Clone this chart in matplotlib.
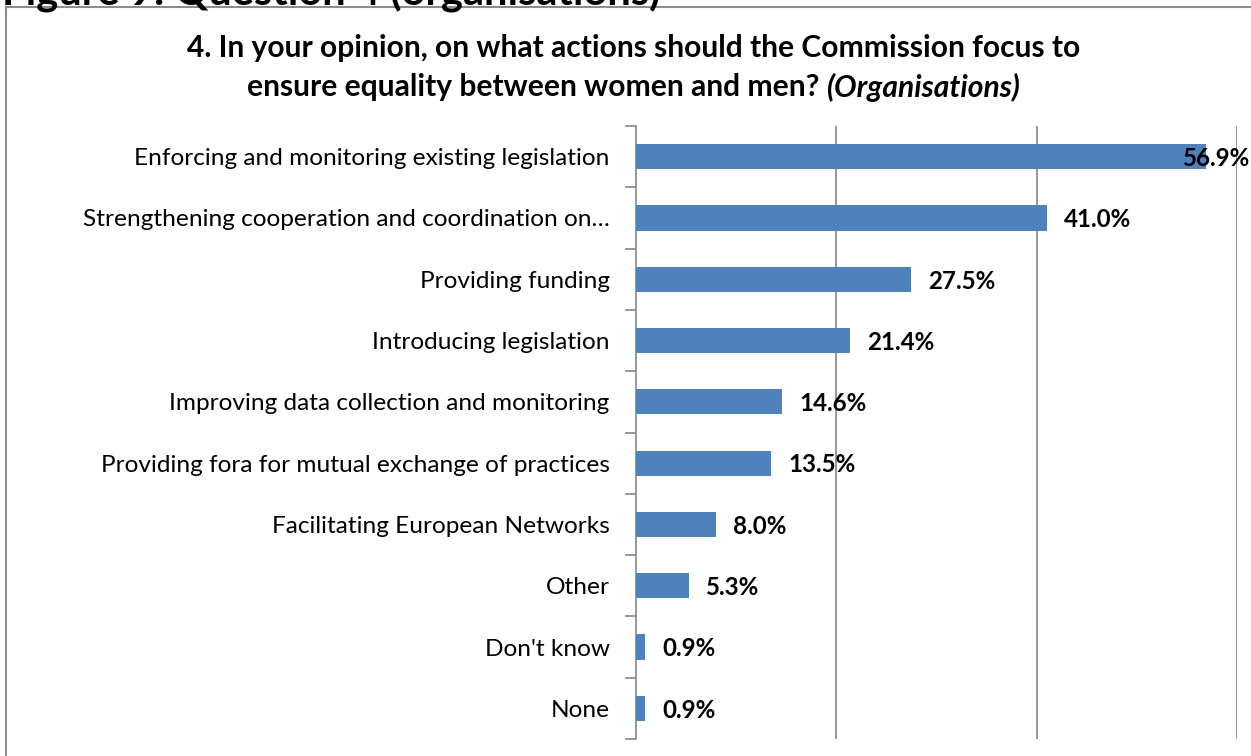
import matplotlib
matplotlib.use("Agg")
import matplotlib.pyplot as plt
from matplotlib.lines import Line2D

categories = [
    "Enforcing and monitoring existing legislation",
    "Strengthening cooperation and coordination on\u2026",
    "Providing funding",
    "Introducing legislation",
    "Improving data collection and monitoring",
    "Providing fora for mutual exchange of practices",
    "Facilitating European Networks",
    "Other",
    "Don't know",
    "None",
]
values = [56.9, 41.0, 27.5, 21.4, 14.6, 13.5, 8.0, 5.3, 0.9, 0.9]
value_labels = ["56.9%", "41.0%", "27.5%", "21.4%", "14.6%", "13.5%", "8.0%", "5.3%", "0.9%", "0.9%"]

FONT = ["Lato", "DejaVu Sans"]
plt.rcParams["font.family"] = FONT

W, H = 1251, 756
fig = plt.figure(figsize=(W / 100, H / 100), dpi=100)

def fx(px):
    return px / W

def fy(py):
    return 1 - py / H

# clipped header text (cut off at the top edge, as in the source page)
fig.text(fx(2), fy(4), "Figure 9: Question 4 (organisations)", fontsize=30,
         fontweight="bold", ha="left", va="baseline", color="black")

# chart border
border_col = "#8c8c8c"
fig.add_artist(Line2D([fx(6), fx(6)], [fy(7), 0], color=border_col, lw=1.5, transform=fig.transFigure))
fig.add_artist(Line2D([fx(6), 1], [fy(7), fy(7)], color=border_col, lw=1.5, transform=fig.transFigure))

# title
TSIZE = 21.6
fig.text(fx(634), fy(48), "4. In your opinion, on what actions should the Commission focus to",
         fontsize=TSIZE, fontweight="bold", ha="center", va="center")
renderer = fig.canvas.get_renderer()
t1 = fig.text(0, fy(87), "ensure equality between women and men? ", fontsize=TSIZE,
              fontweight="bold", ha="left", va="center")
t2 = fig.text(0, fy(87), "(Organisations)", fontsize=TSIZE, fontweight="bold",
              fontstyle="italic", ha="left", va="center")
w1 = t1.get_window_extent(renderer).width
w2 = t2.get_window_extent(renderer).width
start = 634 - (w1 + w2) / 2
t1.set_x(fx(start))
t2.set_x(fx(start + w1))

ax = fig.add_axes([fx(636), fy(739), fx(1237) - fx(636), fy(126) - fy(739)])

n = len(categories)
ypos = list(range(n))
ax.barh(ypos, values, height=0.41, color="#4F81BD", zorder=3)
ax.set_ylim(n - 0.5, -0.5)
ax.set_xlim(0, 60)

ax.set_xticks([20, 40, 60])
ax.xaxis.grid(True, color="#868686", lw=1.2, zorder=0)
ax.tick_params(axis="x", length=0, labelbottom=False)

ax.set_yticks(ypos)
ax.set_yticklabels(categories, fontsize=17.6)
ax.tick_params(axis="y", which="major", length=0, pad=19)
ax.set_yticks([i - 0.5 for i in range(n + 1)], minor=True)
ax.tick_params(axis="y", which="minor", length=8, width=1.2, color="#868686", direction="out")

for s in ["top", "right", "bottom"]:
    ax.spines[s].set_visible(False)
ax.spines["left"].set_color("#868686")
ax.spines["left"].set_linewidth(1.2)

for i, (v, lab) in enumerate(zip(values, value_labels)):
    x = min(v + 1.7, 54.6)
    ax.text(x, i + 0.03, lab, fontsize=17.4, fontweight="bold", va="center", ha="left", zorder=4)

fig.savefig("out.png", dpi=100)
